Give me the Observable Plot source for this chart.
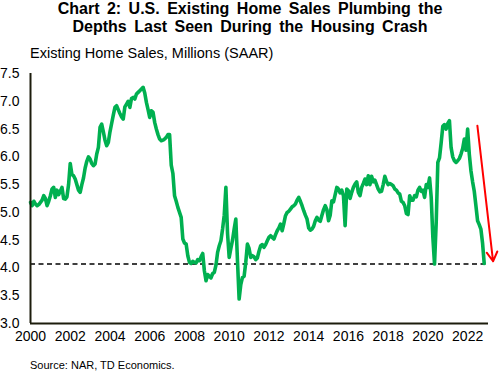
<!DOCTYPE html>
<html><head><meta charset="utf-8">
<script src="https://cdn.jsdelivr.net/npm/d3@7"></script>
<script src="https://cdn.jsdelivr.net/npm/@observablehq/plot@0.6"></script>
<style>
body{margin:0;background:#fff;font-family:"Liberation Sans",Arial,sans-serif;}
#wrap{position:relative;width:500px;height:371px;overflow:hidden;background:#fff;}
#title{position:absolute;top:0;left:0;width:500px;text-align:center;font-weight:bold;font-size:16px;line-height:18px;color:#000;word-spacing:3px;}
#sub{position:absolute;left:30px;top:45px;font-size:14.5px;line-height:16px;color:#000;}
#chart{position:absolute;left:0;top:62px;}
#cap{position:absolute;left:30px;top:359px;font-size:11px;line-height:12px;color:#000;}
</style></head>
<body><div id="wrap">
<div id="title">Chart 2: U.S. Existing Home Sales Plumbing the<br>Depths Last Seen During the Housing Crash</div>
<div id="sub">Existing Home Sales, Millions (SAAR)</div>
<div id="chart"></div>
<div id="cap">Source: NAR, TD Economics.</div>
</div>
<script>
// Monthly existing home sales, millions SAAR, starting January 2000
const startYear = 2000;
const sales2000s = [
 5.18,5.12,5.20,5.15,5.12,5.14,5.18,5.22,5.30,5.25,5.12,5.20,
 5.30,5.42,5.45,5.27,5.40,5.32,5.38,5.45,5.25,5.24,5.28,5.50,
 5.88,5.68,5.66,5.60,5.50,5.40,5.36,5.50,5.62,5.80,5.92,6.00,
 5.96,5.88,5.84,5.87,6.05,6.17,6.53,6.59,6.45,6.30,6.20,6.26,
 6.45,6.60,6.75,6.89,6.92,6.85,6.78,6.72,6.68,6.90,6.95,7.00,
 6.89,7.05,7.07,7.04,7.13,7.16,7.19,7.22,7.25,7.15,6.98,6.85,
 6.71,6.83,6.80,6.62,6.50,6.40,6.32,6.29,6.30,6.32,6.35,6.40,
 6.40,5.85,5.70,5.30,5.20,5.09,5.00,4.91,4.52,4.45,4.43,4.22,
 4.10,4.08,4.12,4.10,4.09,4.15,4.13,4.20,4.26,3.95,3.77,3.88,
 3.85,3.82,3.90,3.92,4.05,4.28,4.40,4.49,4.70,4.95,5.45,4.62
];
const sales2010s = [
 4.19,4.35,4.50,4.70,4.88,4.13,3.44,3.70,3.83,3.85,4.10,4.43,
 4.35,4.19,4.22,4.20,4.15,4.18,4.30,4.40,4.42,4.37,4.42,4.49,
 4.55,4.58,4.55,4.52,4.60,4.67,4.72,4.79,4.67,4.80,4.94,5.00,
 5.02,5.06,5.10,5.12,5.15,5.22,5.27,5.20,5.12,5.03,4.95,4.88,
 4.72,4.68,4.70,4.75,4.85,4.91,4.86,4.84,4.95,5.05,5.12,5.05,
 4.85,4.95,5.21,5.19,5.32,5.45,5.42,5.35,5.40,5.30,4.76,5.42,
 5.39,5.25,5.36,5.45,5.51,5.55,5.36,5.30,5.45,5.52,5.60,5.50,
 5.66,5.50,5.65,5.55,5.58,5.50,5.42,5.37,5.38,5.50,5.65,5.56,
 5.50,5.52,5.50,5.48,5.42,5.40,5.35,5.33,5.20,5.18,5.12,4.98,
 4.96,5.30,5.22,5.22,5.30,5.28,5.40,5.45,5.38,5.40,5.27,5.50
];
const sales2020s = [
 5.45,5.62,5.27,4.55,4.07,4.80,5.90,5.98,6.25,6.55,6.58,6.50,
 6.60,6.65,6.17,6.00,5.93,5.90,5.93,5.97,6.05,6.15,6.32,6.12,
 6.50,6.05,5.75,5.55,5.38,5.12,4.85,4.78,4.70,4.45,4.08
];
const xTicks = [2000,2002,2004,2006,2008,2010,2012,2014,2016,2018,2020,2022];
const yTicks = [3.0,3.5,4.0,4.5,5.0,5.5,6.0,6.5,7.0,7.5];
const refLevel = [4.07];
const arrowStart = {t: 2022.49, v: 6.56};
const arrowEnd = {t: 2023.28, v: 4.12};

const values = [...sales2000s, ...sales2010s, ...sales2020s];
const data = values.map((v, i) => ({t: startYear + i / 12, v}));
const arrows = [{x1: arrowStart.t, y1: arrowStart.v, x2: arrowEnd.t, y2: arrowEnd.v}];
const axisColor = "#1c1c0c";

const chart = Plot.plot({
  width: 500, height: 290,
  marginLeft: 30, marginRight: 12, marginTop: 11, marginBottom: 29,
  style: {fontFamily: '"Liberation Sans", Arial, sans-serif', fontSize: "14px", color: "#000", background: "#fff", overflow: "visible"},
  x: {domain: [2000, 2023.05], ticks: xTicks, tickFormat: d => String(d), tickSize: 0, tickPadding: 8, label: null},
  y: {domain: [3, 7.5], ticks: yTicks, tickFormat: d => d.toFixed(1), tickSize: 0, tickPadding: 11, label: null},
  marks: [
    Plot.ruleY(refLevel, {stroke: "#000", strokeWidth: 1.6, strokeDasharray: "5,3.5"}),
    Plot.line(data, {x: "t", y: "v", stroke: "#00b050", strokeWidth: 3.6, strokeLinejoin: "round"}),
    Plot.arrow(arrows, {x1: "x1", y1: "y1", x2: "x2", y2: "y2", stroke: "#ff0000", strokeWidth: 2, headLength: 8, headAngle: 60, clip: false}),
    Plot.ruleX([2000], {stroke: axisColor, strokeWidth: 2}),
    Plot.ruleY([3], {stroke: axisColor, strokeWidth: 2})
  ]
});
document.getElementById("chart").appendChild(chart);
</script>
</body></html>
